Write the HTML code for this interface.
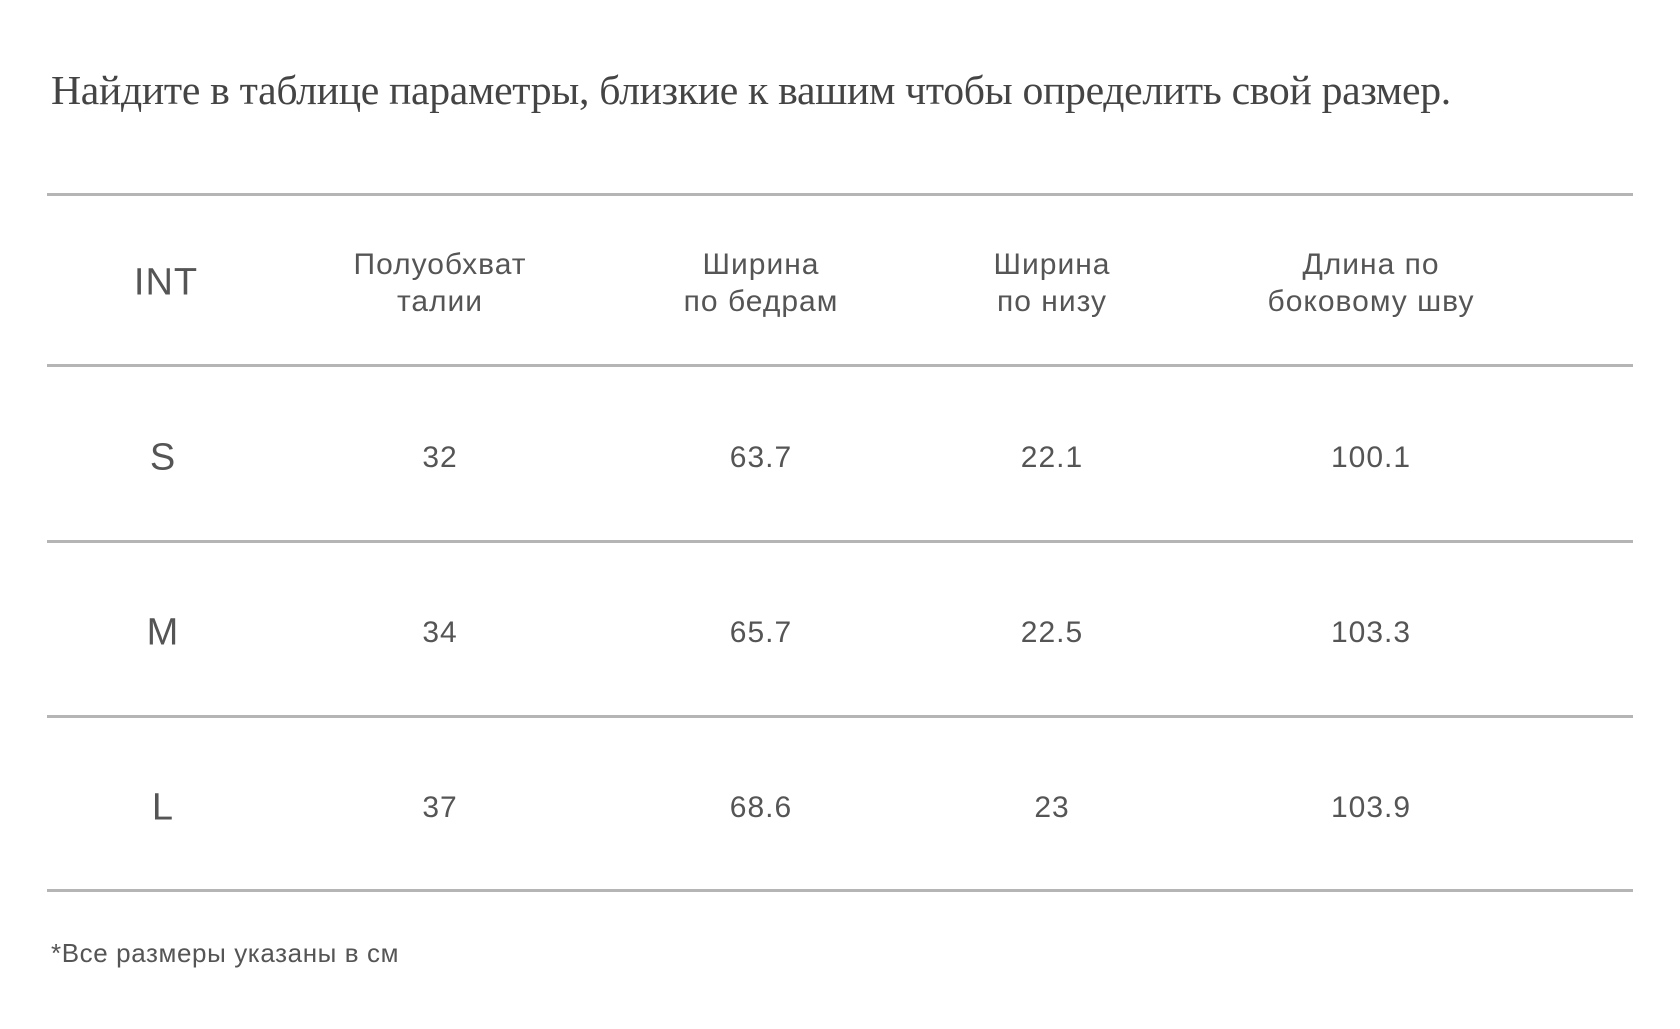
<!DOCTYPE html>
<html><head><meta charset="utf-8"><style>
body{margin:0;width:1680px;height:1029px;background:#fff;position:relative;overflow:hidden;font-family:"Liberation Sans","DejaVu Sans",sans-serif;color:#555}
.t{position:absolute;white-space:nowrap;transform:translate(-50%,-50%);text-align:center;letter-spacing:1px}
.line{position:absolute;left:47px;width:1586px;height:3px;background:#b5b5b5}
</style></head><body>
<div style="position:absolute;left:51px;top:67px;font-family:'Liberation Serif',serif;font-size:41.7px;color:#444;white-space:nowrap;letter-spacing:-0.3px">Найдите в таблице параметры, близкие к вашим чтобы определить свой размер.</div>
<div id="tbl"></div>
<div style="position:absolute;left:51px;top:938px;font-size:26px;letter-spacing:0.6px;color:#555">*Все размеры указаны в см</div>
<script>
const headers=["INT","Полуобхват<br>талии","Ширина<br>по бедрам","Ширина<br>по низу","Длина по<br>боковому шву"];
const sizes=["S","M","L"];
const waist=["32","34","37"];
const hips=["63.7","65.7","68.6"];
const hem=["22.1","22.5","23"];
const side=["100.1","103.3","103.9"];
const colX=[166,440,761,1052,1371];
const lineY=[194,365,541,716,890];
const rowY=[458,633,808];
const tbl=document.getElementById('tbl');
lineY.forEach((y,i)=>{const d=document.createElement('div');d.className='line';d.style.top=(y-1)+'px';


tbl.appendChild(d);});
headers.forEach((h,i)=>{const d=document.createElement('div');d.className='t';d.innerHTML=h;
d.style.left=colX[i]+'px';d.style.top=(i==0?283:283)+'px';d.style.fontSize=(i==0?38:30)+'px';d.style.lineHeight='37px';


tbl.appendChild(d);});
const cols=[sizes,waist,hips,hem,side];
sizes.forEach((s,r)=>{cols.forEach((c,i)=>{const d=document.createElement('div');d.className='t';d.textContent=c[r];
d.style.left=colX[i]+(i==0?-3:0)+'px';d.style.top=rowY[r]+'px';d.style.fontSize=(i==0?38:30)+'px';


tbl.appendChild(d);});});
</script>
</body></html>
